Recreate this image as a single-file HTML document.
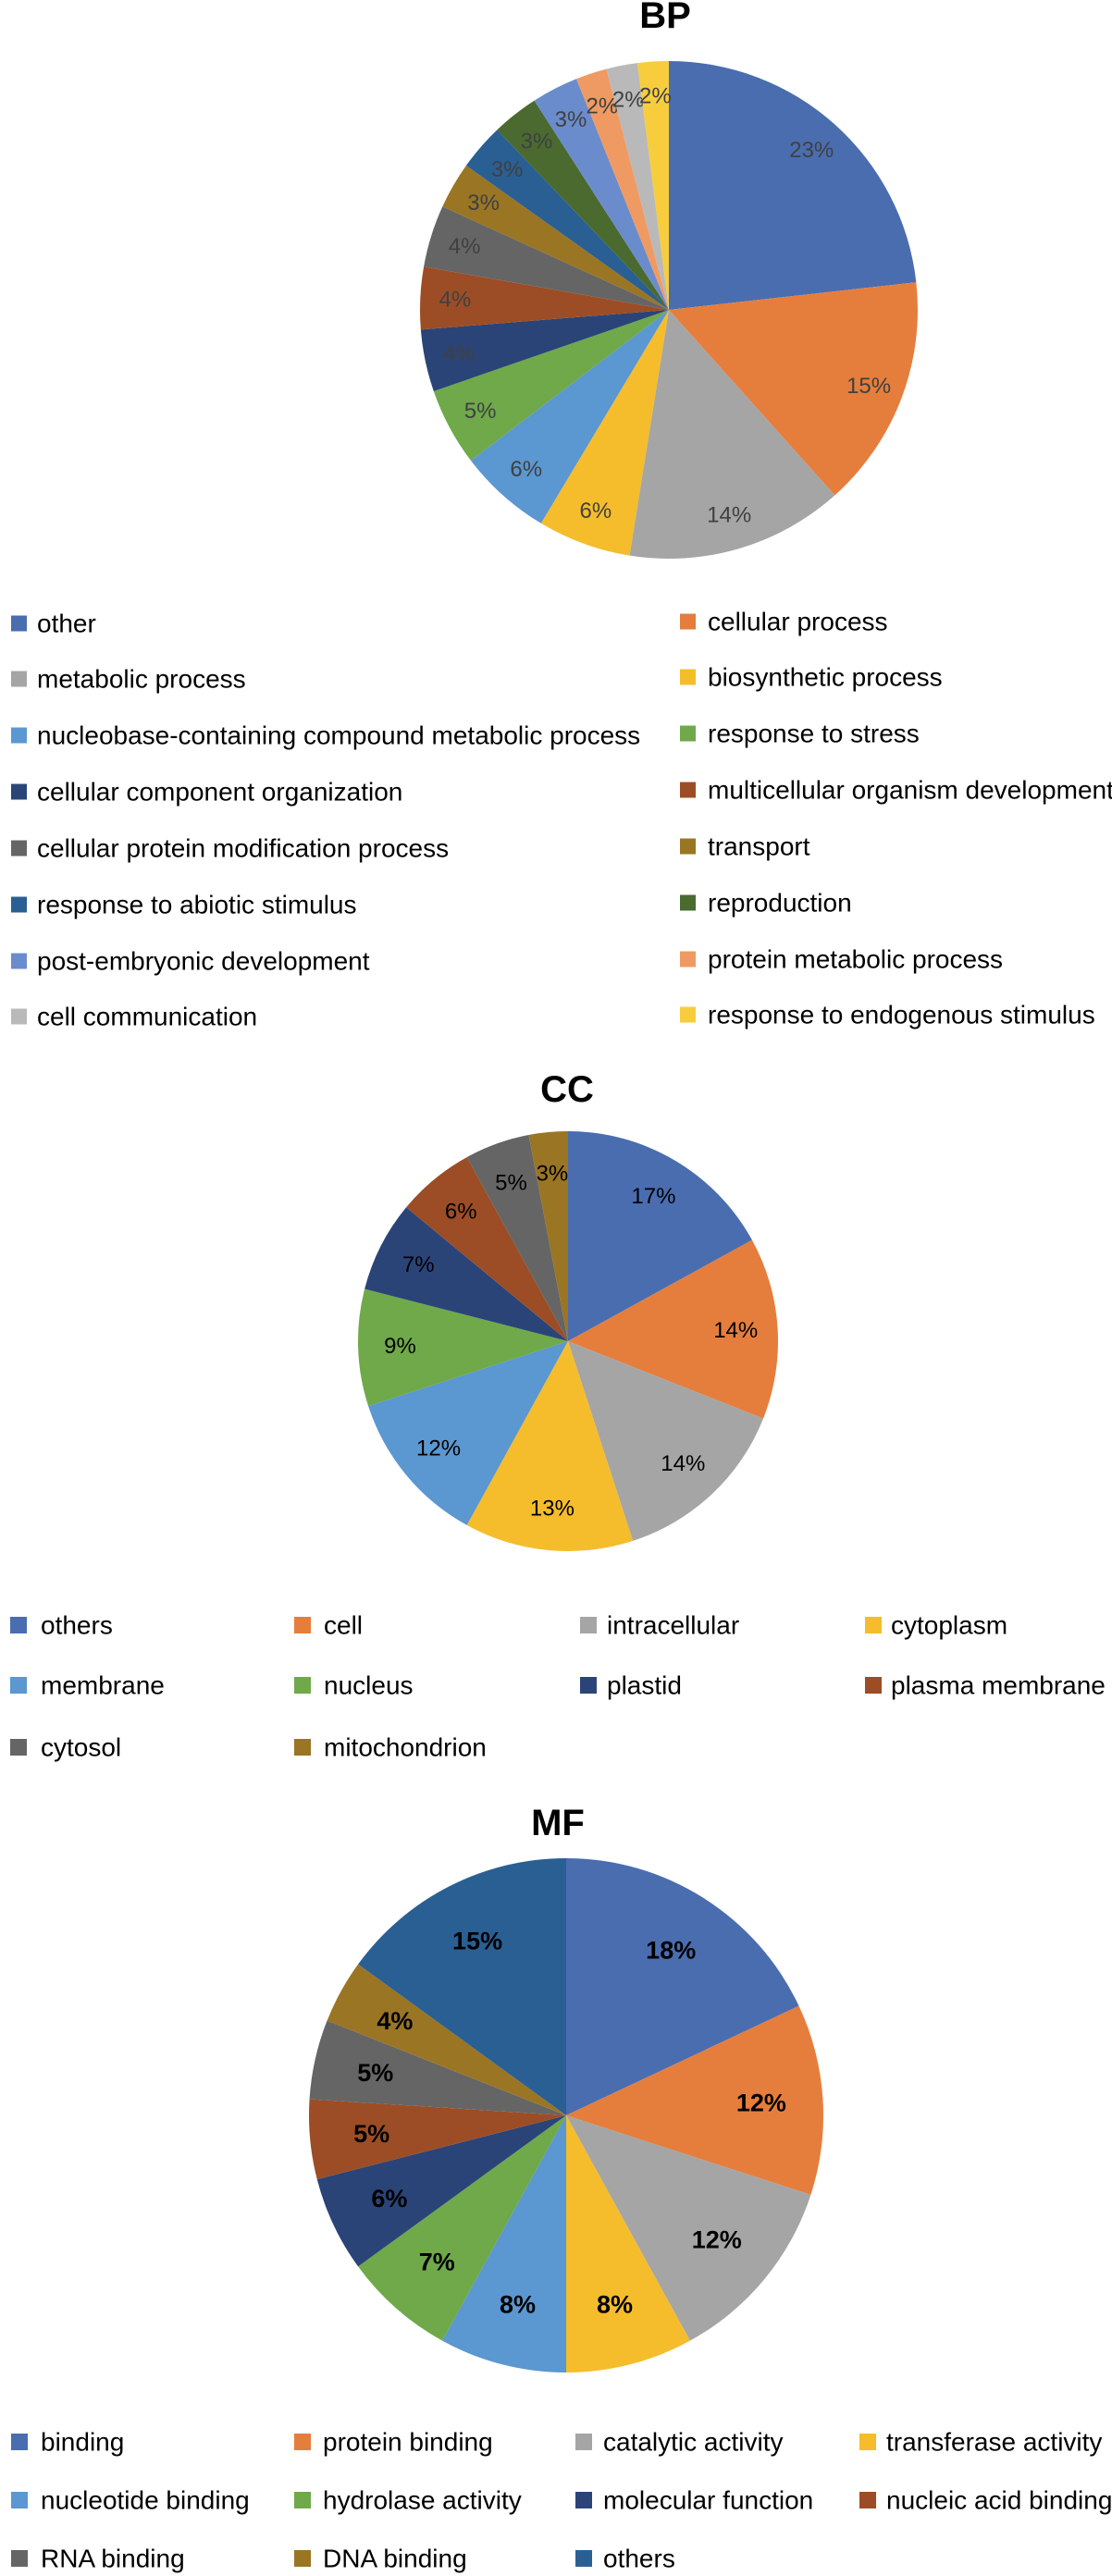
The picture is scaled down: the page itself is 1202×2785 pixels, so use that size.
<!DOCTYPE html>
<html><head><meta charset="utf-8"><style>
html,body{margin:0;padding:0;background:#fff;}
body{width:1202px;height:2785px;position:relative;overflow:hidden;font-family:"Liberation Sans",Arial,sans-serif;}
svg{position:absolute;left:0;top:0;}
</style></head><body>
<svg id="chart" width="1202" height="2785" viewBox="0 0 1202 2785" xmlns="http://www.w3.org/2000/svg"></svg>
<script>
const bpCategories = ["other","cellular process","metabolic process","biosynthetic process","nucleobase-containing compound metabolic process","response to stress","cellular component organization","multicellular organism development","cellular protein modification process","transport","response to abiotic stimulus","reproduction","post-embryonic development","protein metabolic process","cell communication","response to endogenous stimulus"];
const bpValues = [23,15,14,6,6,5,4,4,4,3,3,3,3,2,2,2];
const ccCategories = ["others","cell","intracellular","cytoplasm","membrane","nucleus","plastid","plasma membrane","cytosol","mitochondrion"];
const ccValues = [17,14,14,13,12,9,7,6,5,3];
const mfCategories = ["binding","protein binding","catalytic activity","transferase activity","nucleotide binding","hydrolase activity","molecular function","nucleic acid binding","RNA binding","DNA binding","others"];
const mfValues = [18,12,12,8,8,7,6,5,5,4,15];

const palette = ["#4a6db0","#e57e3c","#a5a5a5","#f5bd2c","#5b97d0","#6fa94a","#2a4478","#9c4d25","#656565","#9a7524","#2a5f93","#4a6a30","#6b8ccc","#ef9a62","#b9b9b9","#f7cd3e"];
const ccPalette = ["#4a6db0","#e57e3c","#a5a5a5","#f5bd2c","#5b97d0","#6fa94a","#2a4478","#9c4d25","#656565","#9a7524"];
const mfPalette = ["#4a6db0","#e57e3c","#a5a5a5","#f5bd2c","#5b97d0","#6fa94a","#2a4478","#9c4d25","#656565","#9a7524","#2a5f93"];

const NS = "http://www.w3.org/2000/svg";
const svg = document.getElementById("chart");
function mk(tag, attrs, parent){
  const e = document.createElementNS(NS, tag);
  for (const k in attrs) e.setAttribute(k, attrs[k]);
  (parent||svg).appendChild(e);
  return e;
}
function drawPie(prefix, cats, vals, colors, cx, cy, r, labelFrac, labelStyle){
  const g = mk("g", {});
  
  
  const total = vals.reduce((a,b)=>a+b,0);
  let a0 = 0;
  vals.forEach((v,i)=>{
    const a1 = a0 + v/total*2*Math.PI;
    const x0 = cx + r*Math.sin(a0), y0 = cy - r*Math.cos(a0);
    const x1 = cx + r*Math.sin(a1), y1 = cy - r*Math.cos(a1);
    const large = (a1-a0) > Math.PI ? 1 : 0;
    const p = mk("path", {d:`M${cx},${cy} L${x0},${y0} A${r},${r} 0 ${large} 1 ${x1},${y1} Z`, fill:colors[i]}, g);
    
    
    const am = (a0+a1)/2;
    const lx = cx + r*labelFrac*Math.sin(am), ly = cy - r*labelFrac*Math.cos(am);
    const t = mk("text", {x:lx, y:ly, "text-anchor":"middle", "dominant-baseline":"central", "font-size":labelStyle.size, "font-weight":labelStyle.weight, fill:labelStyle.color}, g);
    t.textContent = v + "%";
    
    
    a0 = a1;
  });
}
function drawTitle(name, txt, x, y){
  const t = mk("text", {x:x, y:y, "text-anchor":"middle", "dominant-baseline":"central", "font-size":40, "font-weight":"bold", fill:"#000"});
  t.textContent = txt;
  
  
}
function drawLegend(prefix, cats, colors, colX, textX, rowY, ncols, size, sq, yOffsets){
  cats.forEach((c,i)=>{
    const col = i % ncols, row = Math.floor(i / ncols);
    const y = rowY[row] + (yOffsets ? yOffsets[col] : 0);
    const g = mk("g", {});
    
    
    const s = mk("rect", {x:colX[col], y:y-sq/2, width:sq, height:sq, fill:colors[i]}, g);
    
    
    const t = mk("text", {x:textX[col], y:y, "dominant-baseline":"central", "font-size":size, fill:"#000"}, g);
    t.textContent = c;
    
    
  });
}

// BP
drawTitle("bp-title","BP",719,17);
drawPie("bp", bpCategories, bpValues, palette, 723, 335, 269, 0.86, {size:24, weight:"normal", color:"#404040"});
drawLegend("bp", bpCategories, palette, [12,735], [40,765], [674,734,795,856,917,978,1039,1099], 2, 28, 17, [0,-2]);

// CC
drawTitle("cc-title","CC",613,1178);
drawPie("cc", ccCategories, ccValues, ccPalette, 614, 1450, 227, 0.8, {size:24, weight:"normal", color:"#000"});
drawLegend("cc", ccCategories, ccPalette, [11,318,627,935], [44,350,656,963], [1757,1822,1889], 4, 28, 18, null);

// MF
drawTitle("mf-title","MF",603,1971);
drawPie("mf", mfCategories, mfValues, mfPalette, 612, 2287, 278, 0.76, {size:27, weight:"bold", color:"#000"});
drawLegend("mf", mfCategories, mfPalette, [12,318,622,929], [44,349,652,958], [2640,2703,2766], 4, 28, 18, null);
</script>
</body></html>
